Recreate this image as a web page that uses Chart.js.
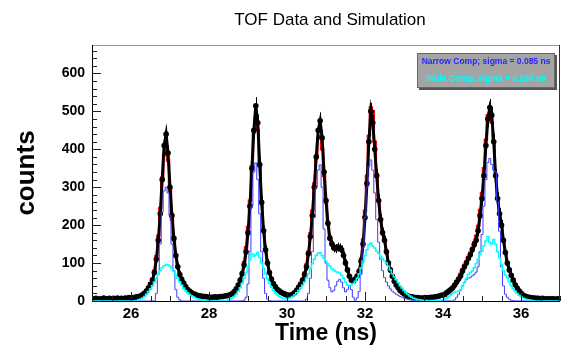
<!DOCTYPE html>
<html>
<head>
<meta charset="utf-8">
<title>TOF Data and Simulation</title>
<script src="https://cdn.jsdelivr.net/npm/chart.js@4/dist/chart.umd.min.js"></script>
<style>
  html, body { margin: 0; padding: 0; background: #fff; }
  #wrap { position: relative; width: 569px; height: 350px; }
</style>
</head>
<body>
<div id="wrap"><canvas id="tof" width="569" height="350"></canvas></div>
<script>
// TOF histogram: data points + total fit + narrow/wide components
const BIN_START = 25.0;   // ns, first bin centre
const BIN_WIDTH = 0.05;   // ns

const xTickValues = [26, 28, 30, 32, 34, 36];
const yTickValues = [0, 100, 200, 300, 400, 500, 600];

// measured counts (black markers)
const dataCounts = [
  6,5,7,4,6,5,8,6,5,7,            // 25.0
  6,7,5,8,6,7,6,8,7,9,            // 25.5
  8,9,10,11,12,14,17,21,27,35,    // 26.0
  44,55,75,110,160,230,320,410,440,390,   // 26.5
  300,225,165,120,90,70,57,47,38,31,      // 27.0
  26,22,19,17,15,14,13,12,12,11,  // 27.5
  10,10,10,11,10,11,12,12,13,14,  // 28.0
  15,17,20,25,32,42,55,72,95,130, // 28.5
  180,250,350,450,515,470,360,260,185,135,  // 29.0
  100,75,58,46,38,31,27,23,20,18, // 29.5
  16,15,16,18,22,29,37,45,55,70,  // 30.0
  90,125,170,225,300,380,450,475,430,340,   // 30.5
  265,205,165,150,140,138,142,140,135,120,  // 31.0
  100,82,65,55,52,58,66,78,105,150,         // 31.5
  220,310,420,500,470,400,330,265,215,180,  // 32.0
  160,130,100,82,65,52,42,35,28,23,         // 32.5
  19,16,13,12,11,10,9,9,8,8,      // 33.0
  8,9,8,9,10,10,11,12,13,15,      // 33.5
  16,18,22,26,30,35,42,50,58,66,  // 34.0
  79,90,100,112,122,135,148,160,185,225,    // 34.5
  270,330,410,480,510,490,420,330,270,230,  // 35.0
  200,160,128,100,82,68,55,43,34,27,        // 35.5
  21,16,13,11,10,9,8,8,7,7,       // 36.0
  6,7,6,5,6,5,6,5,5,6,            // 36.5
  5                               // 37.0
];

// total simulation (red)
const totalFit = [
  5,5,5,5,5,5,6,6,6,6,
  6,6,6,7,7,7,7,8,8,9,
  9,10,11,12,13,15,18,22,28,36,
  46,58,80,118,172,245,325,385,403,370,
  290,215,160,118,90,70,56,46,38,31,
  26,22,19,17,15,14,13,12,11,11,
  10,10,10,10,11,11,12,12,13,14,
  15,17,20,25,32,43,57,76,102,142,
  195,265,355,445,485,450,355,260,185,135,
  100,75,58,46,38,31,27,23,20,18,
  16,16,17,19,23,29,37,46,58,75,
  96,130,178,238,310,380,430,435,400,330,
  260,205,170,155,145,142,145,143,135,120,
  100,82,66,57,54,58,67,82,112,162,
  238,330,435,510,500,420,335,265,215,182,
  160,130,100,82,65,52,42,35,28,23,
  19,16,13,12,11,10,9,9,8,8,
  8,8,8,9,10,10,11,12,13,15,
  16,18,22,26,31,36,43,51,60,72,
  84,95,105,116,127,140,155,172,198,240,
  285,350,425,490,495,470,420,335,270,230,
  198,160,128,100,82,67,54,43,34,27,
  21,16,13,11,10,9,8,8,7,7,
  6,6,6,6,6,5,5,5,5,5,
  5
];

// narrow component, sigma = 0.085 ns (blue)
const narrowComp = [
  0,0,0,0,0,0,0,0,0,0,
  0,0,0,0,0,0,0,0,0,0,
  0,0,0,0,0,0,0,0,0,0,
  0,0,0,20,70,150,235,290,300,285,
  225,150,80,30,10,3,0,0,0,0,
  0,0,0,0,0,0,0,0,0,0,
  0,0,0,0,0,0,0,0,0,0,
  0,0,0,0,0,0,0,0,2,10,
  45,130,250,340,364,320,230,130,60,20,
  5,1,0,0,0,0,0,0,0,0,
  0,0,0,0,0,0,0,0,0,0,
  5,20,60,130,220,300,345,359,300,190,
  100,55,35,24,28,40,52,57,50,35,
  24,30,40,30,10,2,8,25,70,140,
  220,300,355,372,345,285,215,155,110,80,
  62,50,40,32,26,22,18,15,12,10,
  8,6,4,3,2,1,0,0,0,0,
  0,0,0,0,0,0,0,0,0,0,
  0,0,0,0,0,0,3,10,18,28,
  40,50,56,60,62,66,70,76,90,130,
  175,250,320,365,376,360,345,340,260,184,
  90,40,18,10,5,2,1,0,0,0,
  0,0,0,0,0,0,0,0,0,0,
  0,0,0,0,0,0,0,0,0,0,
  0
];

// wide component, sigma = 0.290 ns (cyan)
const wideComp = [
  0,0,0,0,0,0,0,0,0,0,
  0,0,0,0,0,0,0,0,0,0,
  0,0,0,0,3,5,8,12,18,25,
  32,40,50,60,70,80,88,93,96,95,
  92,85,78,70,60,51,42,34,28,22,
  18,14,11,8,6,4,3,2,1,1,
  0,0,0,0,0,0,0,0,0,0,
  3,5,8,12,18,26,35,46,60,75,
  92,108,125,118,122,128,115,100,86,72,
  58,46,36,28,21,16,12,9,7,6,
  6,7,9,12,16,22,28,35,42,50,
  60,72,85,98,110,120,126,128,120,112,
  105,98,92,86,82,78,76,74,68,60,
  50,42,40,42,46,52,60,72,88,105,
  120,135,148,153,145,140,132,125,118,112,
  106,100,92,82,72,64,56,48,40,34,
  28,22,17,13,10,7,5,4,3,2,
  2,1,1,1,1,1,1,1,2,2,
  3,5,8,12,16,20,23,25,26,30,
  38,48,60,70,75,79,88,98,110,122,
  131,145,158,170,155,150,162,150,130,114,
  96,80,68,61,50,40,32,26,20,15,
  11,8,6,4,3,2,1,0,0,0,
  0,0,0,0,0,0,0,0,0,0,
  0
];

const legendLines = [
  { text: 'Narrow Comp; sigma = 0.085 ns', color: '#2626ff' },
  { text: 'Wide Comp; sigma = 0.290 ns', color: '#00ffff' }
];

const FONT = '"Liberation Sans", Arial, Helvetica, sans-serif';

function toPoints(arr) {
  return arr.map((v, i) => ({ x: +(BIN_START + i * BIN_WIDTH).toFixed(3), y: v }));
}

// error bars (sqrt N) drawn right after the data markers
const errorBars = {
  id: 'errorBars',
  afterDatasetDraw(chart, args) {
    if (chart.data.datasets[args.index].label !== 'Data') return;
    const ctx = chart.ctx, ys = chart.scales.y, area = chart.chartArea;
    ctx.save();
    ctx.beginPath();
    ctx.rect(area.left, area.top, area.right - area.left, area.bottom - area.top);
    ctx.clip();
    ctx.strokeStyle = '#000';
    ctx.lineWidth = 1;
    args.meta.data.forEach((pt, i) => {
      const v = dataCounts[i], e = Math.sqrt(v);
      const x = Math.round(pt.x) + 0.5;
      ctx.beginPath();
      ctx.moveTo(x, ys.getPixelForValue(v + e));
      ctx.lineTo(x, ys.getPixelForValue(Math.max(0, v - e)));
      ctx.stroke();
    });
    ctx.restore();
  }
};

// ROOT-like frame, inward ticks, title and the grey stats box
const rootFrame = {
  id: 'rootFrame',
  afterDraw(chart) {
    const ctx = chart.ctx;
    const { left, right, top, bottom } = chart.chartArea;
    const xs = chart.scales.x, ys = chart.scales.y;
    ctx.save();
    ctx.lineWidth = 1;

    // frame
    ctx.strokeStyle = '#999';
    ctx.beginPath();
    ctx.moveTo(left, top + 0.5); ctx.lineTo(right, top + 0.5);
    ctx.stroke();
    ctx.strokeStyle = '#333';
    ctx.beginPath();
    ctx.moveTo(right - 0.5, top); ctx.lineTo(right - 0.5, bottom);
    ctx.stroke();
    ctx.strokeStyle = '#000';
    ctx.beginPath();
    ctx.moveTo(left + 0.5, top); ctx.lineTo(left + 0.5, bottom + 0.5);
    ctx.lineTo(right, bottom + 0.5);
    ctx.stroke();

    // x ticks every 0.5 ns, long ones on the labels
    ctx.strokeStyle = '#222';
    for (let k = 0; k <= 24; k++) {
      const v = 25 + k * 0.5;
      const px = Math.round(xs.getPixelForValue(v)) + 0.5;
      const len = (v % 2 === 0) ? 9 : 5;
      ctx.beginPath();
      ctx.moveTo(px, bottom);
      ctx.lineTo(px, bottom - len);
      ctx.stroke();
    }
    // y ticks every 20 counts
    for (let v = 0; v <= 660; v += 20) {
      const py = Math.round(ys.getPixelForValue(v)) + 0.5;
      const len = (v % 100 === 0) ? 9 : 5;
      ctx.beginPath();
      ctx.moveTo(left, py);
      ctx.lineTo(left + len, py);
      ctx.stroke();
    }

    // title
    ctx.fillStyle = '#000';
    ctx.font = '17px ' + FONT;
    ctx.textAlign = 'center';
    ctx.textBaseline = 'middle';
    ctx.fillText('TOF Data and Simulation', 330, 20);

    // stats box
    const bx = 417, by = 53, bw = 138, bh = 35;
    ctx.fillStyle = '#555';
    ctx.fillRect(bx + 2, by + 2, bw, bh);
    ctx.fillStyle = '#a4a4a4';
    ctx.fillRect(bx, by, bw, bh);
    ctx.strokeStyle = '#666';
    ctx.strokeRect(bx + 0.5, by + 0.5, bw - 1, bh - 1);
    ctx.font = 'bold 8.5px ' + FONT;
    legendLines.forEach((l, i) => {
      ctx.fillStyle = l.color;
      ctx.fillText(l.text, bx + bw / 2, by + 9 + i * 17);
    });
    ctx.restore();
  }
};

new Chart(document.getElementById('tof'), {
  type: 'line',
  data: {
    datasets: [
      { label: 'Wide', data: toPoints(wideComp), borderColor: '#00ffff', borderWidth: 1.5,
        stepped: 'middle', pointRadius: 0, fill: false, order: 0 },
      { label: 'Narrow', data: toPoints(narrowComp), borderColor: '#3a3aff', borderWidth: 1,
        stepped: 'middle', pointRadius: 0, fill: false, order: 1 },
      { label: 'Data', data: toPoints(dataCounts), showLine: true, borderColor: '#000',
        borderWidth: 3, pointRadius: 2.8, pointBackgroundColor: '#000', pointBorderWidth: 0,
        fill: false, order: 2 },
      { label: 'Total', data: toPoints(totalFit), borderColor: '#ff0000', borderWidth: 2.5,
        stepped: 'middle', pointRadius: 0, fill: false, order: 3 }
    ]
  },
  options: {
    responsive: false,
    animation: false,
    devicePixelRatio: 1,
    layout: { padding: { top: 45, right: 9, left: 0, bottom: 0 } },
    plugins: { legend: { display: false }, tooltip: { enabled: false }, title: { display: false } },
    scales: {
      x: {
        type: 'linear', min: 25, max: 37,
        grid: { display: false, drawTicks: false },
        border: { display: false },
        afterBuildTicks(scale) { scale.ticks = xTickValues.map(v => ({ value: v })); },
        ticks: { padding: 4, color: '#000',
          font: { family: FONT, size: 15, weight: 'bold' } },
        title: { display: true, text: 'Time (ns)', color: '#000', padding: { top: 0, bottom: 3 },
          font: { family: FONT, size: 23, weight: 'bold' } },
        afterFit(scale) { scale.height = 49; }
      },
      y: {
        type: 'linear', min: 0, max: 675,
        grid: { display: false, drawTicks: false },
        border: { display: false },
        afterBuildTicks(scale) { scale.ticks = yTickValues.map(v => ({ value: v })); },
        ticks: { padding: 7, color: '#000',
          font: { family: FONT, size: 14, weight: 'bold' } },
        title: { display: true, text: 'counts', color: '#000', padding: { top: 11, bottom: 0 },
          font: { family: FONT, size: 26, weight: 'bold' } },
        afterFit(scale) { scale.width = 92; }
      }
    }
  },
  plugins: [errorBars, rootFrame]
});
</script>
</body>
</html>
